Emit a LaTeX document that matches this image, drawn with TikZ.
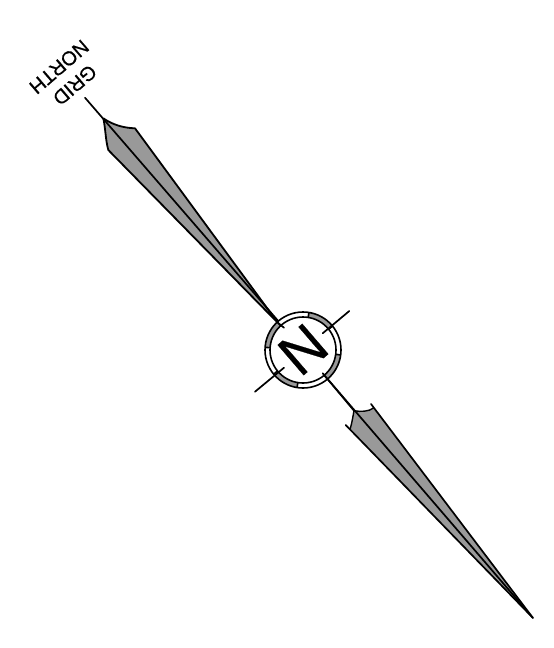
\documentclass[tikz,border=0pt]{standalone}
\usepackage{fontspec}
\setmainfont[FakeBold=0.4]{Liberation Sans}
\definecolor{needlegray}{HTML}{999999}
\tikzset{
  needle/.style={fill=needlegray,draw=black,line width=1.8pt,line join=round},
  hair/.style={draw=black,line width=1.7pt,line cap=round},
  ringline/.style={draw=black,line width=1.6pt},
  seg/.style={draw=needlegray,line width=5pt},
}
\begin{document}
\begin{tikzpicture}[x=1pt,y=1pt,yscale=-1,every node/.style={inner sep=0pt,outer sep=0pt}]
\useasboundingbox (0,0) rectangle (554,648);
\coordinate (ctr) at (303,350);
% top needle
\coordinate (topstart) at (85,97.7);
\coordinate (topcusp) at (103.3,118.3);
\coordinate (topleft) at (108.3,150);
\coordinate (topright) at (135,128.3);
\coordinate (toptip) at (278,323);
\coordinate (topinner) at (284,327.7);
\path[needle] (topcusp) .. controls (105.5,128) and (105.5,140) .. (topleft) -- (toptip) -- (topright) .. controls (124,128) and (113,125) .. (topcusp);
\draw[hair] (topstart) -- (topinner);
% bottom needle
\coordinate (botcusp) at (354,410.7);
\coordinate (botleft) at (345.7,425);
\coordinate (botright) at (371,404);
\coordinate (botla) at (350,429.5);
\coordinate (botra) at (373.5,408);
\coordinate (bottip) at (533,618);
\coordinate (botinner) at (322.7,373.3);
\path[fill=needlegray] (botcusp) .. controls (361,412) and (369,411.5) .. (botra) -- (bottip) -- (botla) .. controls (352,423) and (353,416) .. (botcusp);
\draw[black,line width=1.4pt] (botcusp) .. controls (361,412) and (369,411.5) .. (botra);
\draw[black,line width=1.4pt] (botla) .. controls (352,423) and (353,416) .. (botcusp);
\draw[hair] (botright) -- (bottip) -- (botleft);
\draw[hair] (botinner) -- (bottip);
% ring
\fill[white] (ctr) circle[radius=38pt];
\foreach \a/\b in {81/39,-7.5/-50,-99/-140.5,176/132.5}{
  \draw[seg] (ctr) ++(-\a:35.5pt) arc[start angle=-\a,end angle=-\b,radius=35.5pt];
  \draw[ringline] (ctr) ++(-\a:33pt) -- ++(-\a:5pt);
  \draw[ringline] (ctr) ++(-\b:33pt) -- ++(-\b:5pt);
}
\node[draw,circle,line width=1.6pt,minimum size=76pt] (outerring) at (ctr) {};
\node[draw,circle,line width=1.6pt,minimum size=66pt] (innerring) at (ctr) {};
% cross ticks and axis stubs inside the ring
\coordinate (nea) at (322.7,333.3);
\coordinate (neb) at (349.3,311);
\coordinate (swa) at (284,367.7);
\coordinate (swb) at (255,391.7);
\draw[hair] (nea) -- (neb);
\draw[hair] (swa) -- (swb);
\draw[hair] (toptip) -- (topinner);
\draw[hair] (botinner) -- (botcusp);
% labels
\node[rotate=-139.3,font=\fontsize{58}{58}\selectfont] (bign) at (303,349.5) {N};
\node[rotate=-139.3,font=\fontsize{20}{24}\selectfont,align=center] (gridnorth) at (67,76) {GRID\\NORTH};
\end{tikzpicture}
\end{document}
